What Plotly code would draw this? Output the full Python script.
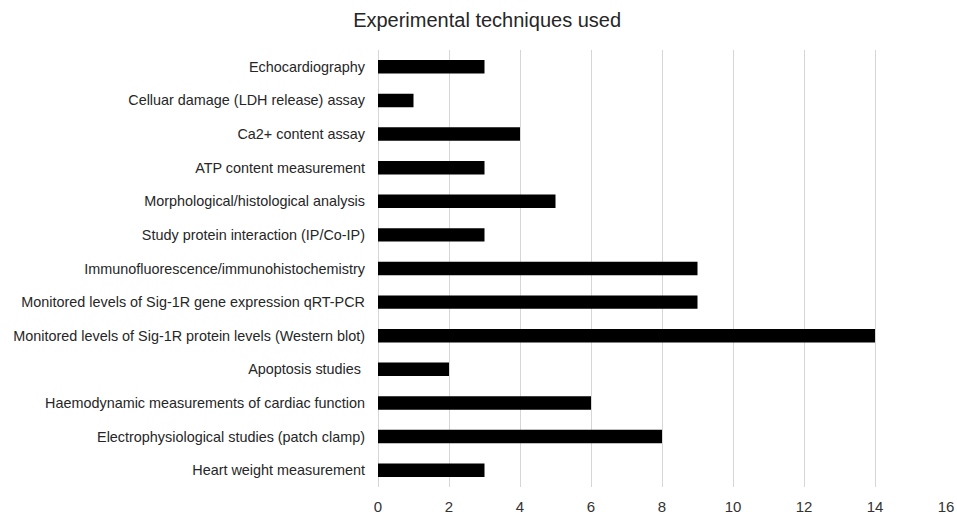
import plotly.graph_objects as go

techniques = [
    "Echocardiography",
    "Celluar damage (LDH release) assay",
    "Ca2+ content assay",
    "ATP content measurement",
    "Morphological/histological analysis",
    "Study protein interaction (IP/Co-IP)",
    "Immunofluorescence/immunohistochemistry",
    "Monitored levels of Sig-1R gene expression qRT-PCR",
    "Monitored levels of Sig-1R protein levels (Western blot)",
    "Apoptosis studies ",
    "Haemodynamic measurements of cardiac function",
    "Electrophysiological studies (patch clamp)",
    "Heart weight measurement",
]
counts = [3, 1, 4, 3, 5, 3, 9, 9, 14, 2, 6, 8, 3]
x_ticks = [0, 2, 4, 6, 8, 10, 12, 14, 16]

fig = go.Figure(go.Bar(
    x=counts, y=techniques, orientation="h",
    marker=dict(color="black", line=dict(width=0)),
))

fig.update_layout(
    width=957, height=516,
    paper_bgcolor="white", plot_bgcolor="white",
    margin=dict(l=378, r=11, t=50, b=29, autoexpand=False),
    bargap=0.6,
    showlegend=False,
    font=dict(family="Liberation Sans, Arial, sans-serif", color="#262626"),
    title=dict(text="Experimental techniques used", x=0.509, xanchor="center",
               xref="container", y=0.961, yanchor="middle", yref="container",
               pad=dict(t=0, b=0, l=0, r=0),
               font=dict(size=20, color="#262626")),
)
fig.update_xaxes(range=[0, 16], tickvals=x_ticks, showgrid=True,
                 gridcolor="#d6d6d6", gridwidth=1, zeroline=True,
                 zerolinecolor="#d6d6d6", zerolinewidth=1,
                 showline=False, ticks="", tickfont=dict(size=15, color="#333333"),
                 ticklabelstandoff=9, automargin=False)
fig.update_yaxes(autorange="reversed", showgrid=False, showline=False,
                 ticks="", tickfont=dict(size=14.4, color="#262626"),
                 ticklabelstandoff=12, automargin=False)

fig.write_html("out.html",
               config={"displayModeBar": False},
               post_script="document.body.style.margin='0';document.body.style.overflow='hidden';")
